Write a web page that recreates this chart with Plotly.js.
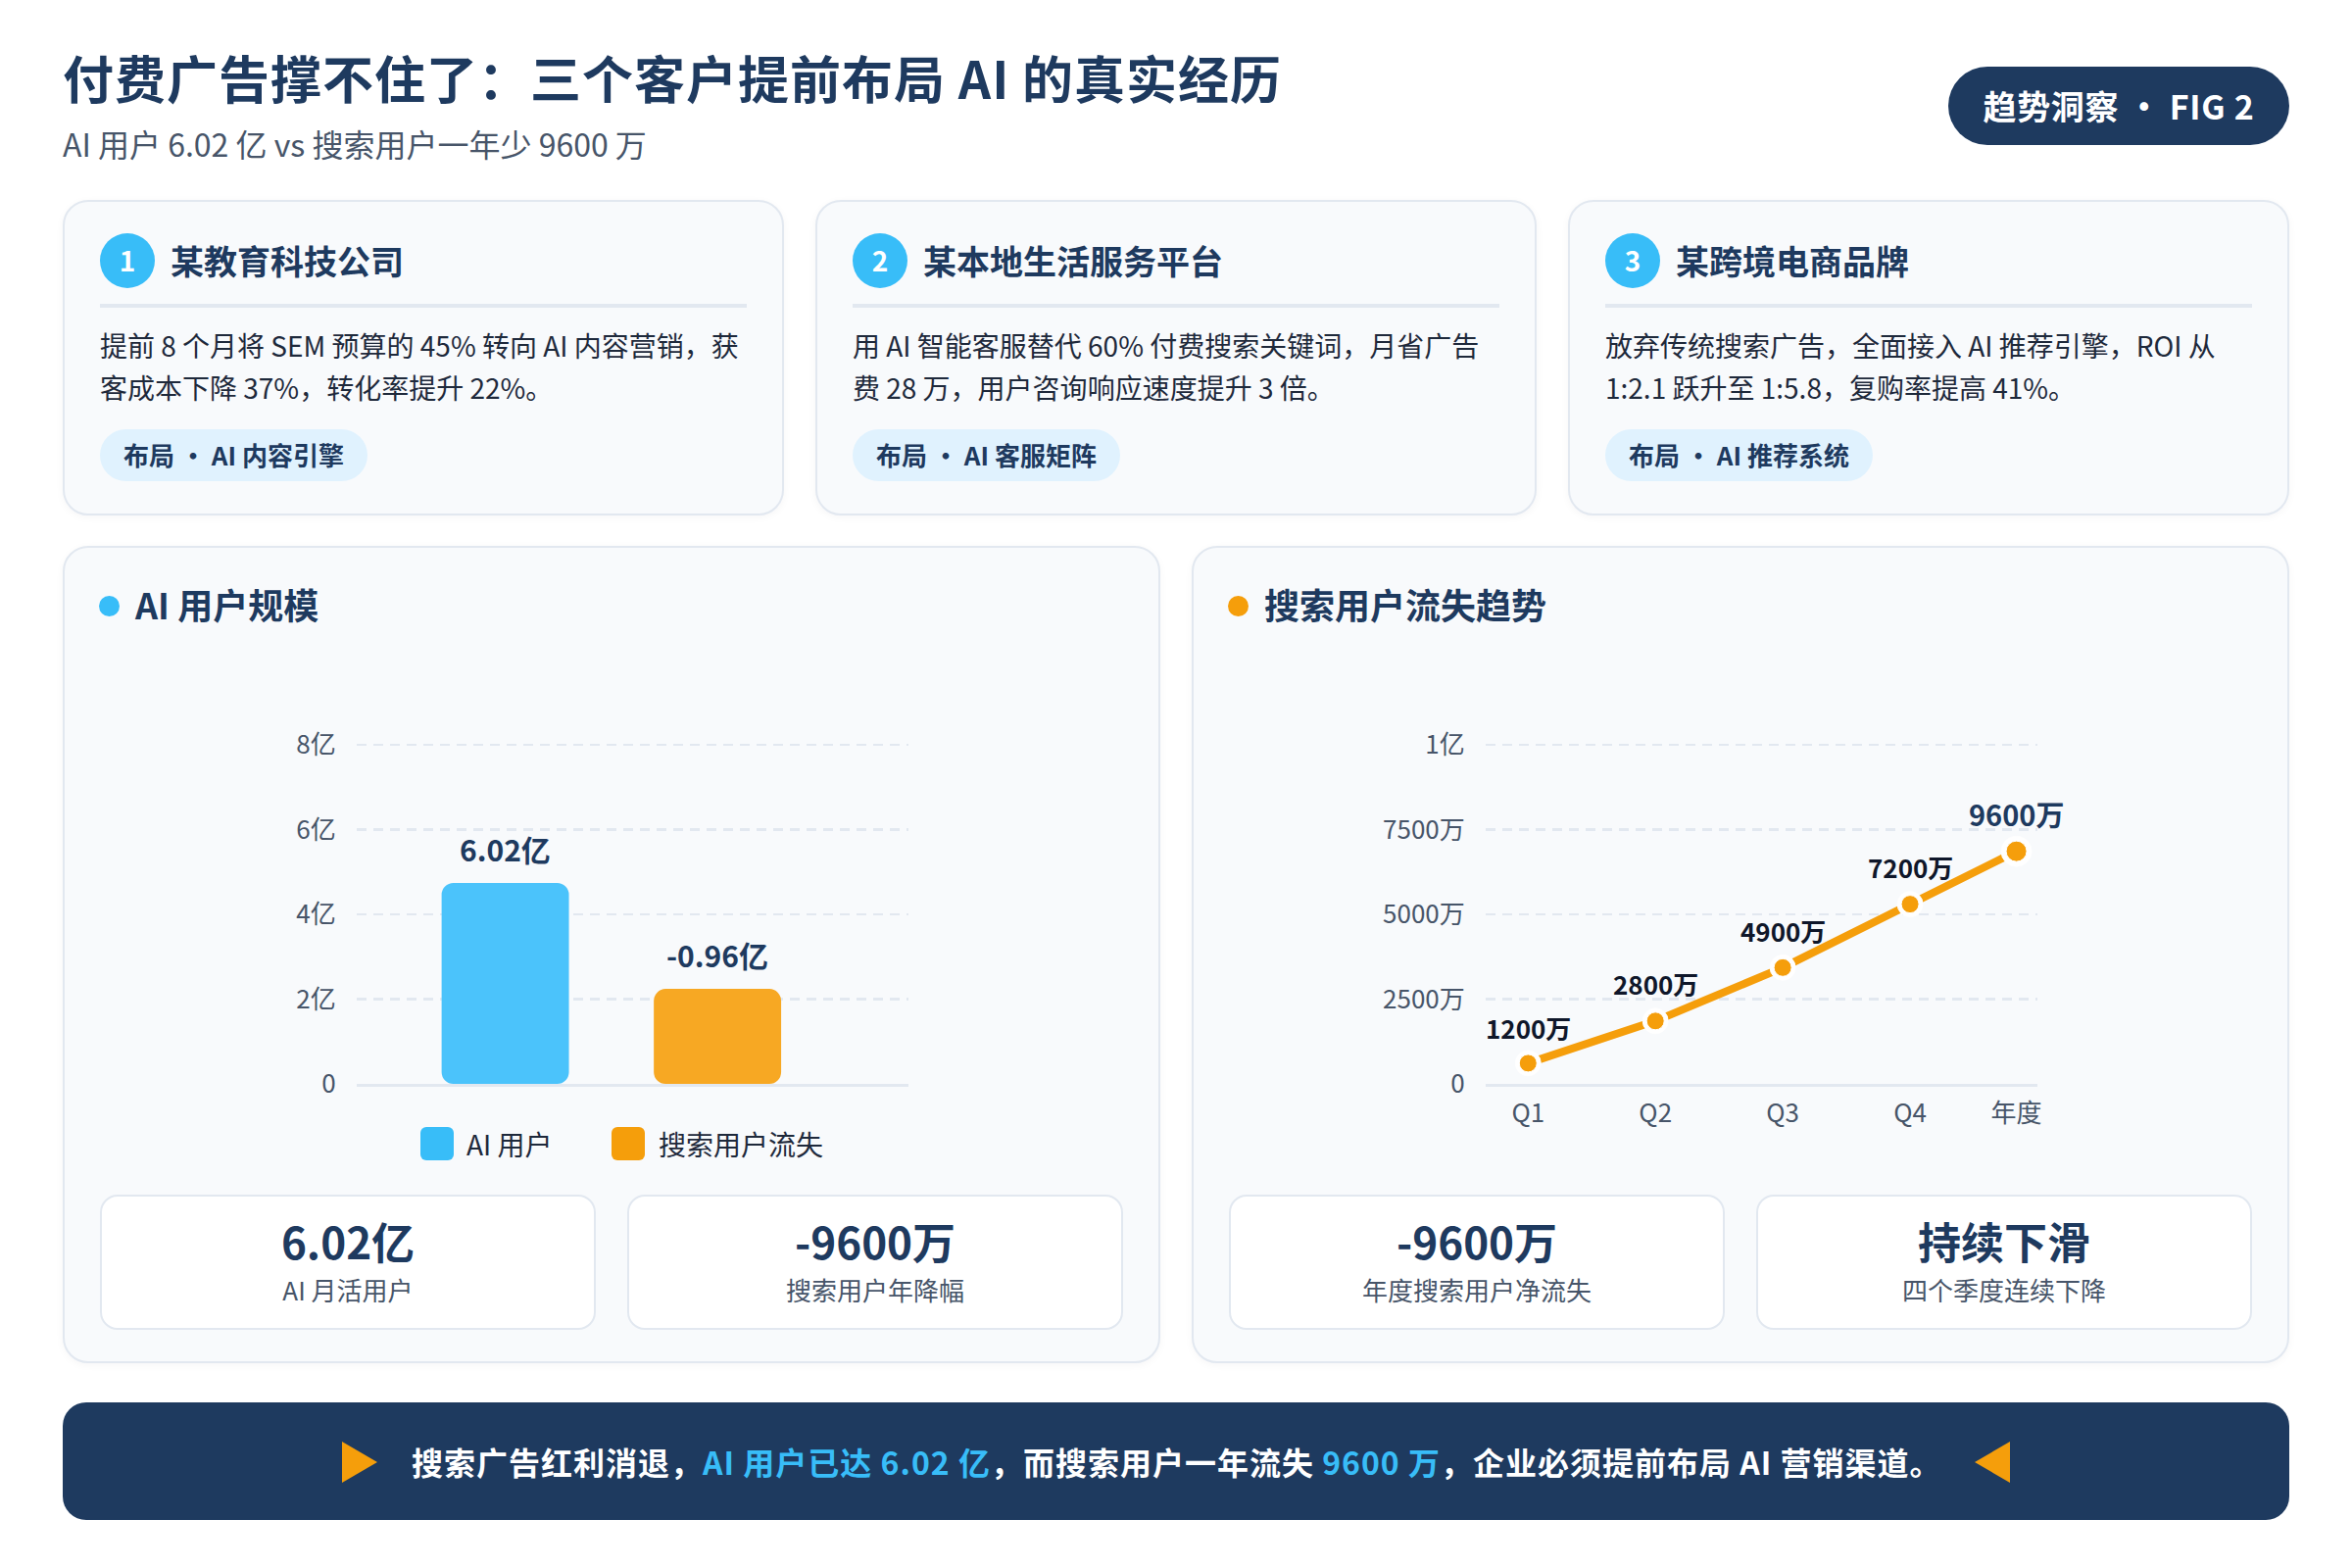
<!DOCTYPE html>
<html lang="zh-CN">
<head>
<meta charset="utf-8">
<title>付费广告撑不住了</title>
<script src="https://cdn.plot.ly/plotly-3.0.1.min.js"></script>
<style>
  * { box-sizing: border-box; margin: 0; padding: 0; }
  html, body { width: 2400px; height: 1600px; background: #fff; overflow: hidden; }
  body { position: relative; font-family: "Noto Sans CJK SC", "Noto Sans", sans-serif; color: #1e3a5f; }
  .abs { position: absolute; white-space: nowrap; }
  #title { left: 64px; top: 41px; font-size: 52px; line-height: 76px; font-weight: 700; letter-spacing: 1px; }
  #subtitle { left: 64px; top: 122px; font-size: 32px; line-height: 48px; color: #475569; }
  #badge { left: 1988px; top: 68px; width: 348px; height: 80px; border-radius: 40px; background: #1e3a5f; color: #fff;
           font-size: 34px; font-weight: 700; letter-spacing: 0.7px; line-height: 80px; text-align: center; }
  .card, .panel { position: absolute; background: #f8fafc; border: 2px solid #e2e8f0; border-radius: 26px; box-shadow: 0 2px 8px rgba(15,23,42,.04); }
  .card { top: 204px; width: 736px; height: 322px; }
  .num { left: 36px; top: 32px; width: 56px; height: 56px; border-radius: 50%; background: #38bdf8; color: #fff;
         font-size: 28px; font-weight: 700; line-height: 54px; text-align: center; }
  .name { left: 108px; top: 35px; font-size: 34px; line-height: 50px; font-weight: 700; }
  .rule { left: 36px; top: 104px; width: 660px; height: 4px; background: #e2e8f0; }
  .desc { left: 36px; top: 125px; font-size: 28px; line-height: 42.5px; color: #1e293b; }
  .pill { left: 36px; top: 232px; height: 53px; padding: 0 24px; border-radius: 27px; background: #e0f2fe;
          font-size: 26px; line-height: 51px; font-weight: 700; }
  .panel { top: 557px; width: 1120px; height: 834px; }
  .dot { left: 35px; top: 49px; width: 21px; height: 21px; border-radius: 50%; }
  .ptitle { left: 72px; top: 30px; font-size: 36px; line-height: 54px; font-weight: 700; }
  .stat { position: absolute; top: 660px; width: 506px; height: 138px; background: #fff; border: 2px solid #e2e8f0; border-radius: 18px; text-align: center; }
  .stat b { display: block; margin-top: 15px; font-size: 44px; line-height: 60px; font-weight: 700; }
  .stat span { display: block; margin-top: 2px; font-size: 26px; line-height: 36px; color: #475569; }
  .chart { position: absolute; }
  .swatch { width: 34px; height: 34px; border-radius: 6px; top: 1150px; }
  .legtext { top: 1146px; font-size: 28px; line-height: 42px; color: #1e293b; }
  #footer { left: 64px; top: 1431px; width: 2272px; height: 120px; border-radius: 24px; background: #1e3a5f; }
  #footline { left: 420px; top: 1464px; font-size: 32px; line-height: 54px; letter-spacing: 1px; font-weight: 700; color: #fff; }
  #footline em { font-style: normal; color: #38bdf8; }
  .tri { width: 0; height: 0; top: 1471px; border-top: 21px solid transparent; border-bottom: 21px solid transparent; }
</style>
</head>
<body>
<div class="abs" id="title">付费广告撑不住了：三个客户提前布局 AI 的真实经历</div>
<div class="abs" id="subtitle">AI 用户 6.02 亿 vs 搜索用户一年少 9600 万</div>
<div class="abs" id="badge">趋势洞察 · FIG 2</div>

<div class="card" style="left:64px">
  <div class="abs num">1</div><div class="abs name">某教育科技公司</div><div class="abs rule"></div>
  <div class="abs desc">提前 8 个月将 SEM 预算的 45% 转向 AI 内容营销，获<br>客成本下降 37%，转化率提升 22%。</div>
  <div class="abs pill">布局 · AI 内容引擎</div>
</div>
<div class="card" style="left:832px">
  <div class="abs num">2</div><div class="abs name">某本地生活服务平台</div><div class="abs rule"></div>
  <div class="abs desc">用 AI 智能客服替代 60% 付费搜索关键词，月省广告<br>费 28 万，用户咨询响应速度提升 3 倍。</div>
  <div class="abs pill">布局 · AI 客服矩阵</div>
</div>
<div class="card" style="left:1600px">
  <div class="abs num">3</div><div class="abs name">某跨境电商品牌</div><div class="abs rule"></div>
  <div class="abs desc">放弃传统搜索广告，全面接入 AI 推荐引擎，ROI 从<br>1:2.1 跃升至 1:5.8，复购率提高 41%。</div>
  <div class="abs pill">布局 · AI 推荐系统</div>
</div>

<div class="panel" style="left:64px">
  <div class="abs dot" style="background:#38bdf8"></div><div class="abs ptitle">AI 用户规模</div>
  <div class="stat" style="left:36px"><b>6.02亿</b><span>AI 月活用户</span></div>
  <div class="stat" style="left:574px"><b>-9600万</b><span>搜索用户年降幅</span></div>
</div>
<div class="panel" style="left:1216px">
  <div class="abs dot" style="background:#f59e0b"></div><div class="abs ptitle">搜索用户流失趋势</div>
  <div class="stat" style="left:36px"><b>-9600万</b><span>年度搜索用户净流失</span></div>
  <div class="stat" style="left:574px"><b>持续下滑</b><span>四个季度连续下降</span></div>
</div>

<div class="chart" id="plot_users" style="left:64px;top:700px;width:1119px;height:450px"></div>
<div class="chart" id="plot_trend" style="left:1216px;top:700px;width:1119px;height:480px"></div>

<div class="abs swatch" style="left:429px;background:#38bdf8"></div><div class="abs legtext" style="left:476px">AI 用户</div>
<div class="abs swatch" style="left:624px;background:#f59e0b"></div><div class="abs legtext" style="left:672px">搜索用户流失</div>

<div class="abs" id="footer"></div>
<div class="abs tri" style="left:349px;border-left:36px solid #f59e0b"></div>
<div class="abs" id="footline">搜索广告红利消退，<em>AI 用户已达 6.02 亿</em>，而搜索用户一年流失 <em>9600 万</em>，企业必须提前布局 AI 营销渠道。</div>
<div class="abs tri" style="left:2015px;border-right:36px solid #f59e0b"></div>

<script>
// Values as drawn in the picture (bar heights do not follow their labels)
var barCategories = ['AI 用户', '搜索用户流失'];
var barValues = [4.74, 2.24];
var barBase = [0, 0];
var barLabels = ['6.02亿', '-0.96亿'];
var barColors = ['#4bc3fb', '#f7a823'];
var barTickVals = [0, 2, 4, 6, 8];
var barTickText = ['0', '2亿', '4亿', '6亿', '8亿'];

var trendNames = ['Q1', 'Q2', 'Q3', 'Q4', '年度'];
var trendSlots = [0, 1, 2, 3, 3.835];
var trendValues = [610, 1855, 3430, 5300, 6860];
var trendLabels = ['1200万', '2800万', '4900万', '7200万', '9600万'];
var trendTickVals = [0, 2500, 5000, 7500, 10000];
var trendTickText = ['0', '2500万', '5000万', '7500万', '1亿'];

var fontFamily = '"Noto Sans CJK SC", "Noto Sans", sans-serif';
var navy = '#1e3a5f', orange = '#f59e0b';

// the axis tops sit 2px over the last tick so plotly keeps its grid line
function baseLayout(xaxis, tickvals, ticktext, range, annotations, b) {
  return {
    width: 1119, height: b + 406,
    margin: {l: 300, r: 256, t: 58, b: b},
    paper_bgcolor: 'rgba(0,0,0,0)', plot_bgcolor: 'rgba(0,0,0,0)',
    font: {family: fontFamily, size: 26, color: '#475569'},
    showlegend: false,
    xaxis: xaxis,
    yaxis: {
      range: range, tickmode: 'array', tickvals: tickvals, ticktext: ticktext,
      ticks: 'outside', ticklen: 15, tickcolor: 'rgba(0,0,0,0)',
      gridcolor: '#e2e8f0', gridwidth: 2.5, griddash: '10px,7px',
      zeroline: false, showline: false, fixedrange: true
    },
    annotations: annotations
  };
}

var bars = {
  type: 'bar', x: barCategories, y: barValues, base: barBase,
  width: 0.6, marker: {color: barColors}, hoverinfo: 'skip'
};
var barNotes = barCategories.map((c, i) => ({
  x: c, y: barValues[i], xref: 'x', yref: 'y', text: barLabels[i], showarrow: false,
  yshift: 35, font: {family: fontFamily, size: 30, color: navy, weight: 700}
}));
var barLayout = baseLayout({
  type: 'category', categoryorder: 'array', categoryarray: barCategories,
  range: [-0.7, 1.9], showticklabels: false, ticks: '', showgrid: false,
  showline: true, linecolor: '#e2e8f0', linewidth: 3, zeroline: false, fixedrange: true
}, barTickVals, barTickText, [0, 8.046], barNotes, 44);
barLayout.barcornerradius = 12;
Plotly.newPlot('plot_users', [bars], barLayout, {displayModeBar: false, staticPlot: true});

var trendLine = {
  type: 'scatter', mode: 'lines', x: trendSlots, y: trendValues,
  line: {color: orange, width: 8}, hoverinfo: 'skip'
};
var trendHalo = {
  type: 'scatter', mode: 'markers', x: trendSlots, y: trendValues, cliponaxis: false,
  marker: {color: '#ffffff', size: [26, 26, 26, 26, 31], opacity: 1}, hoverinfo: 'skip'
};
var trendDots = {
  type: 'scatter', mode: 'markers', x: trendSlots, y: trendValues, cliponaxis: false,
  marker: {color: orange, size: [18, 18, 18, 18, 21], opacity: 1}, hoverinfo: 'skip'
};
var trendNotes = trendSlots.map((x, i) => ({
  x: x, y: trendValues[i], xref: 'x', yref: 'y', text: trendLabels[i], showarrow: false,
  yshift: i == 4 ? 39 : i == 0 ? 36 : 38,
  font: {family: fontFamily, size: i == 4 ? 29 : 26, color: i == 4 ? navy : '#0f172a', weight: 700}
}));
var trendLayout = baseLayout({
  type: 'linear', range: [-0.333, 4.0], tickmode: 'array', tickvals: trendSlots, ticktext: trendNames,
  ticks: 'outside', ticklen: 5, tickcolor: 'rgba(0,0,0,0)', showgrid: false,
  showline: true, linecolor: '#e2e8f0', linewidth: 3, zeroline: false, fixedrange: true
}, trendTickVals, trendTickText, [0, 10058], trendNotes, 74);
Plotly.newPlot('plot_trend', [trendLine, trendHalo, trendDots], trendLayout, {displayModeBar: false, staticPlot: true});
</script>
</body>
</html>
